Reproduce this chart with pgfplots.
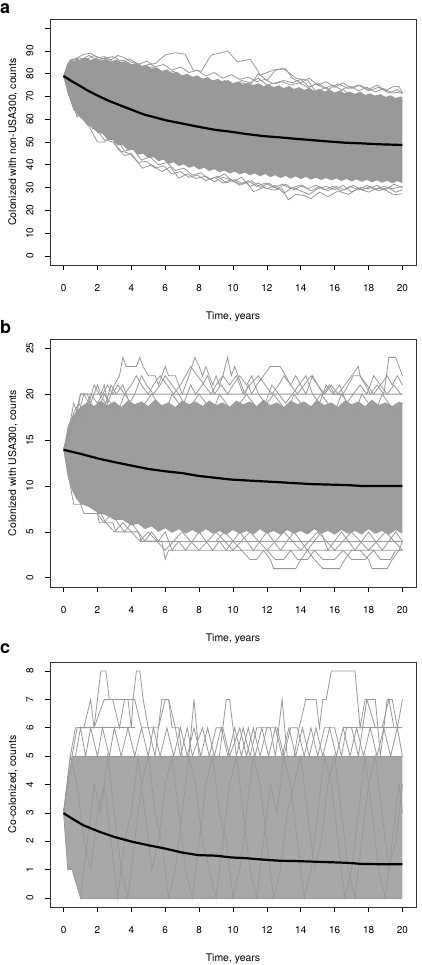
\documentclass[border=0pt]{standalone}
\usepackage{fontspec}
\setmainfont{TeX Gyre Heros}
\usepackage{pgfplots}
\pgfplotsset{compat=1.18}
\definecolor{traj}{RGB}{153,153,153}
\definecolor{bandA}{RGB}{153,153,153}
\definecolor{bandB}{RGB}{157,157,157}
\definecolor{bandC}{RGB}{168,168,168}
\pgfplotsset{
  panel/.style={
    scale only axis, width=366bp,
    xmin=-0.8, xmax=20.8, xtick={0,2,...,20},
    tick align=outside, xtick pos=bottom, ytick pos=left,
    major tick length=5bp,
    axis line style={black!80, line width=0.8bp},
    every tick/.style={black, line width=0.7bp},
    tick label style={font=\fontsize{10}{12}\selectfont},
    /pgf/number format/assume math mode=true,
    xticklabel style={yshift=-11bp},
    yticklabel style={xshift=-8bp, rotate=90, anchor=south},
    xlabel={Time, years},
    every axis x label/.style={at={(axis description cs:0.5,0)}, yshift=-54bp, anchor=base, inner sep=0pt, font=\fontsize{10.5}{12}\selectfont},
    every axis y label/.style={at={(axis description cs:0,0.5)}, xshift=-34bp, rotate=90, anchor=base, inner sep=0pt, font=\fontsize{10.5}{12}\selectfont},
    clip=true,
  },
  trj/.style={traj, line width=0.8bp, mark=none},
  mean/.style={black, line width=2.2bp, mark=none},
}
\begin{document}
\begin{tikzpicture}
\useasboundingbox (0,0) rectangle (422bp,-965bp);
% ---------------- panel a ----------------
\begin{axis}[panel, at={(50bp,-265bp)}, anchor=south west, height=246bp,
  ymin=-4, ymax=104, ytick={0,10,...,100}, yticklabels={0,10,20,30,40,50,60,70,80,90,{}},
  ylabel={Colonized with non-USA300, counts}]
\addplot[draw=none, fill=bandA] coordinates {(0,79)(0.2,84)(0.4,86.2)(0.6,85.4)(0.8,86.8)(1.0,85.9)(1.3,87)(1.6,86)(1.9,86.9)(2.2,85.8)(2.5,86.5)(2.8,85.3)(3.1,86.2)(3.4,85)(3.7,85.6)(4.0,84.1)(4.3,84.7)(4.6,83.2)(4.9,83.9)(5.2,82.2)(5.5,82.8)(5.8,81.2)(6.1,81.9)(6.4,80.3)(6.7,80.8)(7.0,79.2)(7.3,80)(7.6,78.6)(7.9,79.2)(8.2,77.8)(8.5,78.5)(8.8,77)(9.1,77.7)(9.4,76.5)(9.7,77.2)(10.0,75.8)(10.3,76.6)(10.6,75.2)(10.9,76)(11.2,74.9)(11.5,75.8)(11.8,74.5)(12.1,75.3)(12.4,74.1)(12.7,74.9)(13.0,73.7)(13.3,74.6)(13.6,73.3)(13.9,74.1)(14.2,72.9)(14.5,73.8)(14.8,72.5)(15.1,73.3)(15.4,72.2)(15.7,73)(16.0,71.7)(16.3,72.6)(16.6,71.4)(16.9,72.1)(17.2,71)(17.5,71.8)(17.8,70.6)(18.1,71.4)(18.4,70.2)(18.7,71)(19.0,69.8)(19.3,70.5)(19.6,69.3)(19.9,70)(20,69.5)
 (20,32)(19.7,32.8)(19.4,31.9)(19.1,33)(18.8,32.1)(18.5,33.2)(18.2,32.3)(17.9,33.4)(17.6,32.5)(17.3,33.6)(17.0,32.7)(16.7,33.8)(16.4,32.9)(16.1,34)(15.8,33.1)(15.5,34.2)(15.2,33.3)(14.9,34.4)(14.6,33.5)(14.3,34.7)(14.0,33.7)(13.7,34.9)(13.4,33.9)(13.1,35.1)(12.8,34.2)(12.5,35.4)(12.2,34.6)(11.9,35.9)(11.6,35)(11.3,36.2)(11.0,35.4)(10.7,36.6)(10.4,35.8)(10.1,37)(9.8,36.2)(9.5,37.5)(9.2,36.7)(8.9,38.1)(8.6,37.3)(8.3,38.7)(8.0,37.9)(7.7,39.4)(7.4,38.7)(7.1,40.2)(6.8,39.5)(6.5,41.1)(6.2,40.4)(5.9,42.2)(5.6,41.6)(5.3,43.4)(5.0,42.9)(4.7,44.9)(4.4,44.5)(4.1,46.6)(3.8,46.3)(3.5,48.6)(3.2,48.5)(2.9,50.9)(2.6,51)(2.3,53.6)(2.0,54)(1.7,56.5)(1.4,57.3)(1.1,60.2)(0.8,62)(0.5,66.5)(0.25,71)(0,79)};
\addplot[trj] coordinates {(0,79)(0.5,84)(1,86)(1.5,88)(2,86)(2.5,87)(3,85)(3.5,86)(4,84)(4.5,83)(5,84)(5.43,84.5)(6.0,88.2)(6.6,89.2)(7.17,88.6)(7.65,81.6)(8.13,81.1)(8.71,88.2)(9.2,89)(9.68,90)(10.26,85.2)(11.03,86.3)(11.61,79.4)(12.4,81.6)(12.97,82.3)(13.74,77.9)(14.4,77.2)(14.9,72)(15.5,74)(16,71)(16.5,73)(17,70)(17.5,72)(18,69)(18.5,70.5)(19,68)(19.5,69)(20,68)};
\addplot[trj] coordinates {(0,79)(0.3,85)(0.7,86.5)(1.2,88.5)(1.6,89)(2.0,87)(2.4,87.5)(2.8,86)(3.2,88)(3.6,87)(4.0,85)(4.4,84.5)(4.8,82)(5.2,83)(6,80)(6.5,81)(7,78)(8,77)(8.5,76)(10,74)(12,72)(14,70)(16,68)(18,66)(20,65)};
\addplot[trj] coordinates {(0,79)(0.4,86)(0.9,87)(1.3,86)(1.8,88)(2.3,86.5)(2.9,87.5)(3.4,85.5)(3.9,86.5)(4.4,84)(4.9,85.5)(5.4,83)(5.9,84)(6.4,81.5)(6.9,83)(7.4,80.5)(7.9,81.5)(8.4,79)(8.9,80.5)(9.4,78)(9.9,79.5)(10.4,77.5)(10.9,78.5)(11.4,76.5)(11.9,77.5)(12.4,75.5)(12.9,76.5)(13.4,75)(13.9,76)(14.4,74)(14.9,75.5)(15.4,73.5)(15.9,75)(16.4,73)(16.9,74.5)(17.4,72.5)(17.9,74)(18.4,72)(18.9,73.5)(19.4,71.5)(20,72)};
\addplot[trj] coordinates {(8,76)(8.5,78)(9,75)(9.5,77)(10,74.5)(10.5,76)(11,75)(11.5,80)(12,77)(12.5,81.5)(13.1,82.2)(13.5,78)(14,76)(14.5,78)(15,75)(15.5,76.5)(16,74)(16.5,76)(17,73.5)(17.5,75)(18,73)(18.5,75)(19,72.5)(19.5,74.5)(19.8,74.3)(20,71.5)};
\addplot[trj] coordinates {(10,74)(10.5,77)(11,76)(11.5,78)(12,75)(13,77)(13.5,76)(14,77.5)(14.5,74)(15,76)(15.6,73)(16.2,75.5)(16.8,73.5)(17.4,75)(18,72.5)(18.6,74)(19.2,71.5)(19.7,73)(20,71)};
\addplot[trj] coordinates {(0,79)(0.5,68)(1,61)(1.5,57)(2,50)(2.4,50)(2.8,53)(3.2,47)(3.6,44)(4,45)(4.65,38.5)(5.2,40)(5.8,37)(6.3,39)(6.8,34.2)(7.3,36)(7.8,34)(8.4,35)(8.9,32.6)(9.4,34.5)(9.88,33.4)(10.4,31)(10.8,32.5)(11.2,28.2)(11.8,30)(12.4,28.9)(12.9,29.5)(13.26,24.6)(13.7,27)(14.2,26.5)(14.6,25.1)(15.1,28)(15.6,26)(16.2,28.5)(16.8,27)(17.4,29.5)(18,28)(18.6,30)(19.1,28.5)(19.5,26.8)(20,27.3)};
\addplot[trj] coordinates {(0,79)(0.3,72)(0.8,61)(1.2,63)(1.7,56)(2.2,55)(2.7,51)(3.1,52)(3.6,46)(4.1,47)(4.6,42)(5.1,43.5)(5.6,40)(6.1,41)(6.6,37.5)(7.1,38.5)(7.6,35.5)(8.1,36.5)(8.6,33.5)(9.1,35)(9.6,32)(10.1,33.5)(10.6,31.5)(11.1,33)(11.6,30)(12.1,32)(12.6,29.5)(13.1,31.5)(13.6,29)(14.1,31)(14.6,28.5)(15.1,30.5)(15.6,28.5)(16.1,30.5)(16.6,29)(17.1,31)(17.6,29)(18.1,30.5)(18.6,28.5)(19.1,30)(19.6,28)(20,29)};
\addplot[trj] coordinates {(0,79)(0.6,64)(1.0,63)(1.4,58)(1.9,56)(2.4,51)(2.9,50)(3.4,46)(3.9,45)(4.4,41)(4.9,41.5)(5.4,38.5)(5.9,39.5)(6.4,36)(6.9,37)(7.4,34.5)(7.9,35.5)(8.4,33)(8.9,34.5)(9.4,32)(9.9,33.5)(10.4,31.5)(10.9,33)(11.4,30.5)(11.9,32)(12.4,30)(12.9,31.5)(13.4,29.5)(13.9,31)(14.4,29.5)(14.9,31)(15.4,29)(15.9,30.5)(16.4,28.5)(16.9,30.5)(17.4,29)(17.9,31)(18.4,29)(18.9,30.5)(19.4,29.5)(20,30.5)};
\addplot[trj] coordinates {(9,34)(9.5,36)(10,32.5)(10.5,34.5)(11,30.5)(11.5,32)(12,29.5)(12.5,31)(13,27.5)(13.5,30)(14,28.5)(14.5,27)(15,29.5)(15.5,30.5)(16,29)(16.5,31)(17,28)(17.5,30)(18,29.5)(18.5,31)(19,29)(19.5,31.5)(20,30)};
\addplot[mean] coordinates {(0,79)(0.5,76.6)(1,74.5)(1.37,72.8)(1.95,70.6)(2.6,68.3)(3.3,66.2)(4,64.2)(4.7,62.2)(5.4,60.8)(6.0,59.6)(7,58.1)(7.94,56.7)(8.9,55.4)(9.88,54.5)(10.8,53.5)(11.8,52.6)(12.8,52)(13.7,51.4)(14.7,50.8)(15.7,50.2)(16.6,49.7)(17.6,49.4)(18.6,49.0)(20,48.7)};
\end{axis}
\node[anchor=base west, inner sep=0pt, font=\fontsize{18}{20}\selectfont\bfseries] at (0bp,-13bp) {a};
% ---------------- panel b ----------------
\begin{axis}[panel, at={(50bp,-587bp)}, anchor=south west, height=248bp,
  ymin=-1, ymax=26, ytick={0,5,...,25},
  ylabel={Colonized with USA300, counts}]
\addplot[draw=none, fill=bandB] coordinates {(0,14)(0.25,16.5)(0.5,17.5)(0.75,18.1)(1,18.6)(1.4,19.1)(1.8,18.7)(2.2,19.3)(2.6,18.8)(3.0,19.2)(3.4,18.6)(3.8,19.3)(4.2,18.9)(4.6,19.2)(5.0,18.7)(5.4,19.4)(5.8,18.8)(6.2,19.1)(6.6,18.6)(7.0,19.3)(7.4,18.9)(7.8,19.2)(8.2,18.7)(8.6,19.3)(9.0,18.8)(9.4,19.1)(9.8,18.6)(10.2,19.3)(10.6,18.9)(11.0,19.2)(11.4,18.7)(11.8,19.4)(12.2,18.8)(12.6,19.1)(13.0,18.6)(13.4,19.3)(13.8,18.9)(14.2,19.2)(14.6,18.7)(15.0,19.3)(15.4,18.8)(15.8,19.1)(16.2,18.6)(16.6,19.3)(17.0,18.9)(17.4,19.2)(17.8,18.7)(18.2,19.4)(18.6,18.8)(19.0,19.1)(19.4,18.7)(19.8,19.2)(20,19)
 (20,4.8)(19.6,5.2)(19.2,4.7)(18.8,5.1)(18.4,4.8)(18.0,5.3)(17.6,4.7)(17.2,5.1)(16.8,4.8)(16.4,5.2)(16.0,4.7)(15.6,5.1)(15.2,4.8)(14.8,5.3)(14.4,4.7)(14.0,5.1)(13.6,4.8)(13.2,5.2)(12.8,4.7)(12.4,5.1)(12.0,4.8)(11.6,5.3)(11.2,4.7)(10.8,5.1)(10.4,4.8)(10.0,5.2)(9.6,4.7)(9.2,5.1)(8.8,4.8)(8.4,5.3)(8.0,4.8)(7.6,5.2)(7.2,4.8)(6.8,5.3)(6.4,4.9)(6.0,5.4)(5.6,5.0)(5.2,5.6)(4.8,5.3)(4.4,5.9)(4,5.7)(3.5,6.3)(3,6.3)(2.5,6.8)(2,7.1)(1.5,7.7)(1,8.1)(0.75,8.6)(0.5,9.5)(0.25,11)(0,14)};
\addplot[trj] coordinates {(0,14)(0.6,17)(1.0,20)(20,20)};
\addplot[trj] coordinates {(4.5,4)(20,4)};
\addplot[trj] coordinates {(0,14)(0.2,15)(0.4,17)(0.6,19)(0.8,18)(1.0,20)(1.4,20)(1.6,19)(1.8,20)(2.0,21)(2.2,20)(2.4,21)(2.6,19)(2.8,20)(3.0,21)(3.3,22)(3.5,24)(3.7,23)(4.3,23)(4.5,24)(4.7,23)(5.0,22)(5.4,22)(5.6,21)(5.8,22)(6.0,23)(6.2,22)(6.6,22)(6.8,21)(7.0,20)(7.2,21)(7.4,22)(7.75,24)(8.0,23)(8.2,22)(8.4,23)(8.6,22)(8.8,21)(9.0,22)(9.2,21)(9.4,22)(9.68,24)(9.9,22)(10.1,23)(10.3,22)(10.5,21)(10.7,20)(10.9,21)(11.1,20)(11.4,21)(11.8,22)(12.2,23)(12.8,23)(13.1,22)(13.4,21)(13.7,22)(14.0,21)(14.3,20)(14.7,22)(15.0,21)(15.3,20)(15.7,21)(16.0,20)(16.5,20)(16.8,21)(17.1,22)(17.5,22)(17.8,21)(18.1,20)(18.5,21)(18.9,20)(19.2,24)(19.6,24)(19.8,23)(20,22)};
\addplot[trj] coordinates {(0,14)(0.3,16)(0.6,18)(0.9,19)(1.2,18)(1.6,20)(2.0,19)(2.3,20)(2.6,21)(2.9,20)(3.2,21)(3.6,20)(4.0,21)(4.3,22)(4.6,21)(5.0,20)(5.3,21)(5.7,22)(6.1,21)(6.5,20)(6.9,21)(7.2,22)(7.5,23)(7.9,22)(8.3,21)(8.7,20)(9.0,21)(9.4,22)(9.8,21)(10.2,22)(10.6,20)(11.0,21)(11.5,22)(11.9,21)(12.3,20)(12.7,21)(13.0,22)(13.4,21)(13.8,20)(14.2,21)(14.6,22)(15.0,21)(15.4,20)(15.8,21)(16.2,20)(16.6,21)(17.0,22)(17.4,23)(17.5,22)(17.9,21)(18.3,20)(18.7,21)(19.1,22)(19.4,21)(19.7,22)(20,21)};
\addplot[trj] coordinates {(0,14)(0.3,15)(0.6,17)(0.9,18)(1.2,20)(1.5,19)(1.8,21)(2.1,20)(2.5,19)(2.8,21)(3.1,20)(3.5,21)(3.9,19)(4.2,20)(4.6,22)(4.9,21)(5.3,20)(5.7,21)(6.0,22)(6.4,21)(6.8,20)(7.1,19)(7.5,21)(7.8,20)(8.2,21)(8.5,22)(8.9,20)(9.3,21)(9.7,20)(10.0,21)(10.4,22)(10.8,21)(11.1,22)(11.5,20)(11.9,19)(12.3,21)(12.7,20)(13.1,19)(13.5,20)(13.9,21)(14.3,22)(14.7,20)(15.1,19)(15.5,21)(15.9,20)(16.3,21)(16.7,19)(17.1,20)(17.5,21)(17.9,20)(18.3,22)(18.7,21)(19.1,20)(19.5,21)(19.9,20)(20,20)};
\addplot[trj] coordinates {(0,14)(0.4,16)(0.8,18)(1.2,17)(1.6,19)(2.0,18)(2.4,20)(2.8,19)(3.2,18)(3.6,20)(4.0,19)(4.4,18)(4.8,19)(5.2,20)(5.6,19)(6.0,18)(6.4,20)(6.8,19)(7.2,18)(7.6,19)(8.0,20)(8.4,19)(8.8,18)(9.2,20)(9.6,19)(10.0,18)(10.4,19)(10.8,20)(11.2,19)(11.6,18)(12.0,19)(12.4,20)(12.8,19)(13.2,18)(13.6,20)(14.0,19)(14.4,18)(14.8,19)(15.2,20)(15.6,19)(16.0,18)(16.4,20)(16.8,19)(17.2,18)(17.6,20)(18.0,19)(18.4,18)(18.8,20)(19.2,19)(19.6,18)(20,19)};
\addplot[trj] coordinates {(0,14)(0.2,12)(0.4,10)(0.6,8)(1.9,8)(2.1,6)(2.9,6)(3.1,5)(4.4,5)(4.6,4)(5.8,4)(6.0,2)(6.2,3)(20,3)};
\addplot[trj] coordinates {(0,14)(0.3,12)(0.6,10)(1.0,8)(1.2,7)(2.2,7)(2.5,6)(3.0,5)(3.5,6)(4.0,5)(4.5,4)(5.0,5)(5.5,4)(6.0,3)(6.5,4)(7.0,5)(7.5,4)(8.0,3)(8.5,4)(9.0,5)(9.5,4)(10,3)(10.5,4)(11,5)(11.5,4)(12,3)(12.5,4)(13,5)(13.5,4)(14,3)(14.5,4)(15,5)(15.5,4)(16,3)(16.5,4)(17,5)(17.5,4)(18,3)(18.5,4)(19,5)(19.5,4)(20,3)};
\addplot[trj] coordinates {(2,7)(2.4,6)(2.8,7)(3.2,6)(3.6,5)(4.0,6)(4.4,5)(4.8,4)(5.2,5)(5.6,4)(6.0,5)(6.4,3)(6.8,4)(7.2,3)(7.6,4)(8.0,5)(8.4,4)(8.8,3)(9.2,4)(9.6,3)(10.0,4)(10.4,5)(10.8,4)(11.2,3)(11.6,4)(12.0,5)(12.4,4)(12.8,3)(13.2,4)(13.6,5)(14.0,4)(14.4,3)(14.8,4)(15.2,5)(15.6,3)(16.0,4)(16.4,5)(16.8,4)(17.2,3)(17.6,4)(18.0,5)(18.4,4)(18.8,3)(19.2,4)(19.6,5)(20,4)};
\addplot[trj] coordinates {(9,4)(9.5,5)(10,4)(10.5,3)(11,2)(11.4,2)(11.8,3)(12.2,2)(12.4,1)(13.7,1)(14.0,2)(14.4,3)(14.8,2)(15.3,1)(16.3,1)(16.6,2)(17,3)(17.5,3)(18,2)(18.2,1)(19.1,1)(19.4,2)(19.8,3)(20,4)};
\addplot[trj] coordinates {(12,3)(12.5,2)(13,2)(13.4,3)(13.8,2)(14.4,2)(14.8,3)(15.3,2)(16,2)(16.5,3)(17,2)(17.8,2)(18.3,3)(18.7,2)(19.3,2)(19.6,3)(20,3)};
\addplot[mean] coordinates {(0,13.94)(1,13.5)(2.13,12.95)(3,12.6)(4.06,12.2)(5,11.85)(6.0,11.6)(7,11.4)(7.94,11.1)(8.9,10.9)(9.88,10.7)(10.8,10.6)(11.8,10.5)(12.8,10.4)(13.7,10.3)(14.7,10.2)(15.7,10.15)(16.7,10.1)(17.6,10.0)(20,10.0)};
\end{axis}
\node[anchor=base west, inner sep=0pt, font=\fontsize{18}{20}\selectfont\bfseries] at (0bp,-333bp) {b};
% ---------------- panel c ----------------
\begin{axis}[panel, at={(50bp,-907bp)}, anchor=south west, height=245bp,
  ymin=-0.32, ymax=8.32, ytick={0,1,...,8},
  ylabel={Co-colonized, counts}]
\addplot[draw=none, fill=bandC] coordinates {(0,3)(0.25,4.2)(0.5,5)(20,5)(20,0)(1,0)(0.5,1)(0.25,1)(0,3)};
\addplot[trj] coordinates {(1,0)(20,0)};
\addplot[trj] coordinates {(0.5,5)(20,5)};
\addplot[trj] coordinates {(0.25,1)(0.5,1)};
\addplot[trj] coordinates {(0.9,6)(4.2,6)};
\addplot[trj] coordinates {(0,3)(0.4,5)(0.7,6)(1.8,6)(2.0,7)(2.2,8)(2.5,8)(2.7,7)(3.8,7)(4.0,6)(4.1,7)(4.3,8)(4.5,8)(4.7,7)(5.0,6)(5.4,5)(5.6,6)(5.8,7)(6.2,7)(6.4,6)(6.8,6)(7.0,5)(7.4,5)(7.7,7)(8.0,5)(9.2,5)(9.6,7)(9.8,7)(10.2,5)(10.6,6)(11.0,5)(11.4,6)(12.2,6)(12.5,5)(12.9,7)(13.2,5)(13.6,5)(13.9,6)(14.3,7)(14.9,7)(15.1,6)(15.3,7)(15.5,7)(15.8,8)(17.2,8)(17.5,6)(17.8,7)(18.4,7)(18.7,5)(19.1,7)(19.4,7)(19.7,6)(20,7)};
\addplot[trj] coordinates {(0,3)(0.5,5)(0.8,6)(1.2,6)(1.6,7)(1.8,6)(2.4,7)(2.9,7)(3.3,6)(3.6,7)(4.2,7)(4.6,6)(5.6,6)(6.0,7)(6.2,7)(6.6,6)(6.9,5)(7.3,6)(7.6,5)(8.2,6)(8.6,5)(9.0,6)(9.4,6)(9.8,5)(10.4,6)(10.8,5)(11.2,6)(11.6,5)(12.0,6)(12.6,6)(13.0,5)(13.4,6)(13.8,6)(14.2,5)(14.6,6)(15.0,5)(15.4,6)(16.0,6)(16.4,5)(16.7,6)(17.0,6)(17.4,5)(17.9,7)(18.4,6)(18.8,6)(19.2,7)(19.5,6)(20,6)};
\addplot[trj] coordinates {(0.7,5)(1.0,6)(1.3,5)(1.6,6)(2.0,5)(2.3,6)(2.7,5)(3.0,6)(3.4,5)(3.8,6)(4.2,5)(4.6,6)(5.0,5)(5.3,6)(5.7,5)(6.1,6)(6.5,5)(6.9,6)(7.3,5)(7.7,6)(8.1,5)(8.5,6)(8.9,5)(9.3,6)(9.7,5)(10.1,6)(10.5,5)(10.9,6)(11.3,5)(11.7,6)(12.1,5)(12.5,6)(12.9,5)(13.3,6)(13.7,5)(14.1,6)(14.5,5)(14.9,6)(15.3,5)(15.7,6)(16.1,5)(16.5,6)(16.9,5)(17.3,6)(17.7,5)(18.1,6)(18.5,5)(18.9,6)(19.3,5)(19.7,6)(20,5)};
\addplot[trj] coordinates {(16.5,6)(20,6)};
\addplot[trj] coordinates {(0,3)(0.25,1)(0.5,1)(1,0)(1.4,2)(1.8,4)(2.2,3)(2.6,5)(3.0,3)(3.4,1)(3.8,0)(4.2,2)(4.6,4)(5.0,5)(5.4,3)(5.8,2)(6.2,0)(6.6,1)(7.0,3)(7.4,5)(7.8,4)(8.2,2)(8.6,1)(9.0,0)(9.4,2)(9.8,4)(10.2,5)(10.6,3)(11.0,1)(11.4,0)(11.8,2)(12.2,4)(12.6,3)(13.0,5)(13.4,4)(13.8,2)(14.2,0)(14.6,1)(15.0,3)(15.4,5)(15.8,4)(16.2,2)(16.6,0)(17.0,1)(17.4,3)(17.8,5)(18.2,3)(18.6,1)(19.0,0)(19.4,2)(19.8,4)(20,3)};
\addplot[trj] coordinates {(0,3)(0.4,5)(0.8,4)(1.2,2)(1.6,1)(2.0,3)(2.4,4)(2.8,2)(3.2,0)(3.6,2)(4.0,3)(4.4,5)(4.8,3)(5.2,1)(5.6,2)(6.0,4)(6.4,5)(6.8,3)(7.2,1)(7.6,0)(8.0,2)(8.4,4)(8.8,5)(9.2,3)(9.6,2)(10.0,0)(10.4,1)(10.8,3)(11.2,5)(11.6,4)(12.0,2)(12.4,0)(12.8,1)(13.2,3)(13.6,4)(14.0,5)(14.4,3)(14.8,1)(15.2,2)(15.6,4)(16.0,5)(16.4,3)(16.8,1)(17.2,0)(17.6,2)(18.0,4)(18.4,5)(18.8,3)(19.2,1)(19.6,2)(20,4)};
\addplot[mean] coordinates {(0,2.99)(0.5,2.8)(1.18,2.56)(2.13,2.33)(3,2.15)(4.06,1.98)(5,1.86)(6.0,1.74)(7,1.6)(7.94,1.51)(9,1.49)(9.88,1.43)(10.8,1.4)(11.8,1.35)(12.8,1.31)(13.7,1.30)(14.7,1.28)(15.7,1.26)(16.7,1.24)(17.6,1.2)(18.6,1.19)(20,1.19)};
\end{axis}
\node[anchor=base west, inner sep=0pt, font=\fontsize{18}{20}\selectfont\bfseries] at (0bp,-653bp) {c};
\end{tikzpicture}
\end{document}
